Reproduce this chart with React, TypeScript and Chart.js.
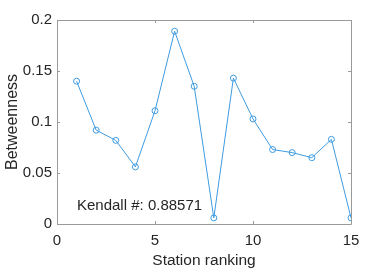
import React, { useEffect, useRef } from "react";
import { Chart, registerables } from "chart.js";

Chart.register(...registerables);

const stations = [1, 2, 3, 4, 5, 6, 7, 8, 9, 10, 11, 12, 13, 14, 15];
const betweenness = [0.14, 0.092, 0.082, 0.056, 0.111, 0.189, 0.135, 0.006, 0.143, 0.103, 0.073, 0.07, 0.065, 0.083, 0.006];
const xTicks = [0, 5, 10, 15];
const yTicks = [0, 0.05, 0.1, 0.15, 0.2];
const annotationText = "Kendall #: 0.88571";
const annotationPos = { x: 1.02, y: 0.0176 };

const FONT = "'Liberation Sans', Arial, Helvetica, sans-serif";
const TEXT = "#262626";
const AXIS = "#9a9a9a";

const boxPlugin = {
  id: "matlabBox",
  afterDatasetsDraw(chart: any) {
    const { ctx, chartArea: a, scales } = chart;
    const xs = scales.x, ys = scales.y;
    ctx.save();
    ctx.strokeStyle = AXIS;
    ctx.lineWidth = 1;
    ctx.beginPath();
    ctx.rect(Math.round(a.left) + 0.5, Math.round(a.top) + 0.5, Math.round(a.right - a.left), Math.round(a.bottom - a.top));
    ctx.stroke();
    const tl = 3;
    ctx.beginPath();
    xTicks.forEach((v) => {
      const px = Math.round(xs.getPixelForValue(v)) + 0.5;
      ctx.moveTo(px, a.bottom);
      ctx.lineTo(px, a.bottom - tl);
      ctx.moveTo(px, a.top);
      ctx.lineTo(px, a.top + tl);
    });
    yTicks.forEach((v) => {
      const py = Math.round(ys.getPixelForValue(v)) + 0.5;
      ctx.moveTo(a.left, py);
      ctx.lineTo(a.left + tl, py);
      ctx.moveTo(a.right, py);
      ctx.lineTo(a.right - tl, py);
    });
    ctx.stroke();
    ctx.fillStyle = TEXT;
    ctx.font = `15px ${FONT}`;
    ctx.textAlign = "left";
    ctx.textBaseline = "middle";
    ctx.fillText(annotationText, xs.getPixelForValue(annotationPos.x), ys.getPixelForValue(annotationPos.y));
    ctx.restore();
  },
};

export default function App() {
  const ref = useRef<HTMLCanvasElement>(null);
  useEffect(() => {
    document.body.style.margin = "0";
    const chart = new Chart(ref.current as HTMLCanvasElement, {
      type: "line",
      data: {
        datasets: [
          {
            data: stations.map((s, i) => ({ x: s, y: betweenness[i] })),
            borderColor: "#3f9be0",
            borderWidth: 1,
            pointRadius: 3,
            pointBorderWidth: 1,
            pointBackgroundColor: "rgba(0,0,0,0)",
            pointBorderColor: "#3f9be0",
            tension: 0,
          },
        ],
      },
      options: {
        animation: false,
        responsive: false,
        layout: { padding: { top: 20, right: 37, left: 0, bottom: 0 } },
        plugins: { legend: { display: false }, tooltip: { enabled: false } },
        scales: {
          x: {
            type: "linear",
            min: 0,
            max: 15,
            afterBuildTicks: (s: any) => { s.ticks = xTicks.map((v) => ({ value: v })); },
            afterFit: (s: any) => { s.height = 46; },
            grid: { display: false, drawTicks: false },
            border: { display: false },
            ticks: { color: TEXT, font: { family: FONT, size: 15 }, padding: 8, maxRotation: 0 },
            title: { display: true, text: "Station ranking", color: TEXT, font: { family: FONT, size: 15.5 }, padding: { top: 4, bottom: 0 } },
          },
          y: {
            type: "linear",
            min: 0,
            max: 0.2,
            afterBuildTicks: (s: any) => { s.ticks = yTicks.map((v) => ({ value: v })); },
            afterFit: (s: any) => { s.width = 57; },
            grid: { display: false, drawTicks: false },
            border: { display: false },
            ticks: { color: TEXT, font: { family: FONT, size: 15 }, padding: 5, callback: (v: any) => String(v) },
            title: { display: true, text: "Betweenness", color: TEXT, font: { family: FONT, size: 16 }, padding: { top: 3, bottom: 2 } },
          },
        },
      },
      plugins: [boxPlugin],
    } as any);
    return () => chart.destroy();
  }, []);
  return (
    <div style={{ position: "fixed", left: 0, top: 0, width: 388, height: 270, background: "#fff" }}>
      <canvas ref={ref} width={388} height={270} />
    </div>
  );
}
